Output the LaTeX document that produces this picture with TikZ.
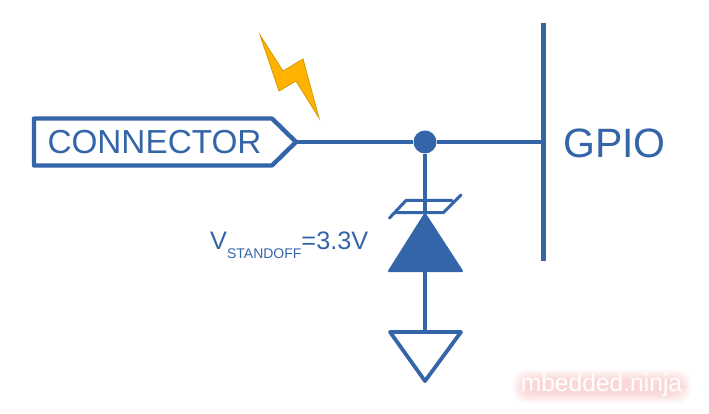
\documentclass[tikz,border=0pt]{standalone}
\usepackage{fontspec}
\setmainfont{Liberation Sans}
\definecolor{schemblue}{HTML}{3465A8}
\definecolor{boltfill}{HTML}{FFB300}
\definecolor{boltline}{HTML}{D49A06}
\definecolor{glowpink}{HTML}{F08080}
\tikzset{
  wire/.style={draw=schemblue, line width=4.4pt, line join=round, line cap=round},
  thinwire/.style={draw=schemblue, line width=3pt, line join=round, line cap=round},
  schemtext/.style={text=schemblue, inner sep=0, anchor=base},
  junction/.style={circle, fill=schemblue, minimum size=23pt, inner sep=0},
}
\begin{document}
\begin{tikzpicture}[x=1pt, y=-1pt]
      \useasboundingbox (0,0) rectangle (709,414);

      \coordinate (conntip) at (296,142);
      \coordinate (gpiotop) at (543.5,23);
      \coordinate (gpiobot) at (543.5,261);
      \coordinate (gpiowire) at (543.5,142);
      \coordinate (anode) at (425,272);
      \coordinate (cathode) at (425,214);
      \coordinate (gndtop) at (425,332);

      % Connecteur
      \draw[wire] (34,118.5) -- (272,118.5) -- (conntip) -- (272,165.5) -- (34,165.5) -- cycle;
      \node[schemtext, font=\fontsize{33.3}{34}\selectfont] (conntext) at (154.5,154) {CONNECTOR};

      % Bus GPIO
      \draw[wire, line cap=butt] (gpiotop) -- (gpiobot);
      \node[schemtext, font=\fontsize{41}{41}\selectfont] (gpiotext) at (614.5,157.5) {GPIO};

      % Fils
      \node[junction] (dot) at (425,142) {};
      \draw[wire, line cap=butt] (conntip) -- (dot) -- (gpiowire);
      \draw[wire, line cap=butt] (dot) -- (cathode);
      \draw[wire, line cap=butt] (anode) -- (gndtop);

      % Diode
      \fill[schemblue, draw=schemblue, line width=2pt, line join=round] (cathode) -- (389,271) -- (462,271) -- cycle;
      \draw[thinwire] (389.5,218) -- (406,200.5) -- (452,200.5);
      \draw[thinwire] (395,212.5) -- (443.5,212.5) -- (461,195);
      \node[schemtext, anchor=base west, font=\fontsize{25.3}{26}\selectfont] (vlabel) at (210,249)
        {V\raisebox{-9pt}{\fontsize{14}{14}\selectfont STANDOFF}=3.3V};

      % Masse
      \draw[wire, line width=3.8pt] (390,332) -- (461,332) -- (425,381) -- cycle;

      % Eclair
      \draw[fill=boltfill, draw=boltline, line width=0.8pt, line join=miter]
        (260,35) -- (283,71) -- (303,59) -- (319,118) -- (296,81) -- (279,91) -- cycle;

      % Filigrane
      \foreach \marge in {0,1.5,...,9} {
        \fill[glowpink, opacity=0.05, rounded corners=13pt]
          (513+\marge,370+\marge) rectangle (691-\marge,403-\marge);
      }
      \node[inner sep=0, anchor=base, text=white, font=\fontsize{24.6}{25}\selectfont] (mark) at (601.5,391) {mbedded.ninja};
\end{tikzpicture}
\end{document}
